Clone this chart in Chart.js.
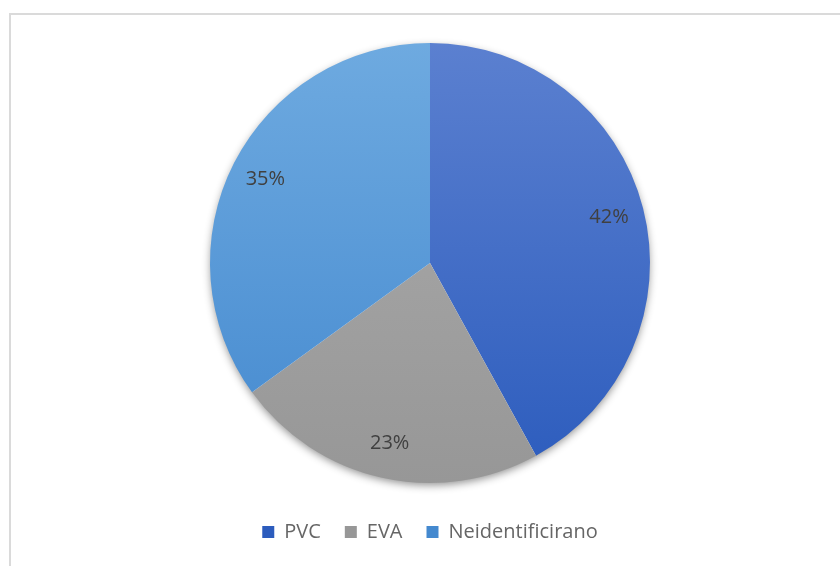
<!DOCTYPE html>
<html>
<head>
<meta charset="utf-8">
<script src="https://cdn.jsdelivr.net/npm/chart.js@4.4.1/dist/chart.umd.min.js"></script>
<style>
  html, body { margin: 0; padding: 0; background: #fff; overflow: hidden; }
  #frame { position: absolute; left: 9px; top: 13px; width: 900px; height: 600px; border-left: 2px solid #dadada; border-top: 2px solid #dadada; }
  #chart { position: absolute; left: 0; top: 0; }
</style>
</head>
<body>
<div id="frame"></div>
<canvas id="chart" width="840" height="566"></canvas>
<script>
// Data
const categories = ["PVC", "EVA", "Neidentificirano"];
const shares = [42, 23, 35];

// gradient stops per slice (top -> bottom)
const topColors = ["#5b80d0", "#acacac", "#6eaae0"];
const bottomColors = ["#2c5cbd", "#979797", "#4489cf"];

const fontFamily = "'Open Sans', Lato, sans-serif";

function sliceGradient(context) {
  const chart = context.chart;
  const area = chart.chartArea;
  if (!area) return topColors[context.dataIndex];
  const g = chart.ctx.createLinearGradient(0, area.top, 0, area.bottom);
  g.addColorStop(0, topColors[context.dataIndex]);
  g.addColorStop(1, bottomColors[context.dataIndex]);
  return g;
}

// soft shadow under the whole pie
const pieShadow = {
  id: "pieShadow",
  beforeDatasetsDraw(chart) {
    const arc = chart.getDatasetMeta(0).data[0];
    if (!arc) return;
    const ctx = chart.ctx;
    ctx.save();
    ctx.shadowColor = "rgba(0,0,0,0.45)";
    ctx.shadowBlur = 9;
    ctx.shadowOffsetY = 3;
    ctx.fillStyle = "#fff";
    ctx.beginPath();
    ctx.arc(arc.x, arc.y, arc.outerRadius - 1, 0, Math.PI * 2);
    ctx.fill();
    ctx.restore();
  }
};

// percentage labels inside slices
const sliceLabels = {
  id: "sliceLabels",
  afterDatasetsDraw(chart) {
    const ctx = chart.ctx;
    const meta = chart.getDatasetMeta(0);
    ctx.save();
    ctx.font = "20px " + fontFamily;
    ctx.fillStyle = "#404040";
    ctx.textAlign = "center";
    ctx.textBaseline = "middle";
    meta.data.forEach((arc, i) => {
      const mid = (arc.startAngle + arc.endAngle) / 2;
      const r = arc.outerRadius * 0.84;
      ctx.fillText(shares[i] + "%", arc.x + Math.cos(mid) * r, arc.y + Math.sin(mid) * r);
    });
    ctx.restore();
  }
};

new Chart(document.getElementById("chart").getContext("2d"), {
  type: "pie",
  data: {
    labels: categories,
    datasets: [{ data: shares, backgroundColor: sliceGradient, borderWidth: 0 }]
  },
  options: {
    responsive: false,
    animation: false,
    layout: { padding: { top: 43, left: 20, right: 0, bottom: 14 } },
    plugins: {
      tooltip: { enabled: false },
      legend: {
        position: "bottom",
        // empty title only pushes the legend row down
        title: { display: true, text: " ", font: { size: 1, lineHeight: 1 }, padding: 7 },
        labels: {
          boxWidth: 12,
          boxHeight: 12,
          padding: 24,
          color: "#595959",
          font: { family: fontFamily, size: 20 },
          generateLabels(chart) {
            return categories.map((c, i) => ({
              text: c,
              fillStyle: bottomColors[i],
              strokeStyle: bottomColors[i],
              lineWidth: 0,
              index: i
            }));
          }
        }
      }
    }
  },
  plugins: [pieShadow, sliceLabels]
});
</script>
</body>
</html>
